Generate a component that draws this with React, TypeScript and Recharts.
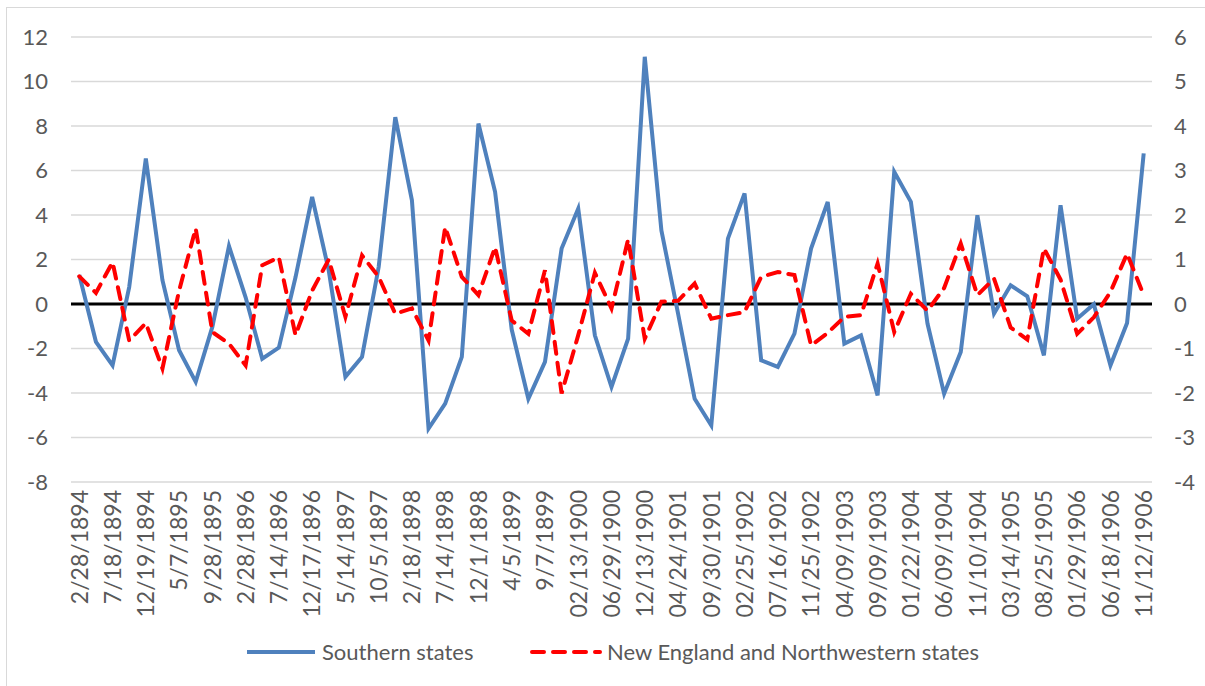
import React from 'react';
import { LineChart, Line, XAxis, YAxis, CartesianGrid, ReferenceLine } from 'recharts';

const dates: string[] = [
  '2/28/1894', '5/4/1894', '7/18/1894', '10/2/1894', '12/19/1894',
  '3/5/1895', '5/7/1895', '7/11/1895', '9/28/1895', '12/13/1895',
  '2/28/1896', '5/7/1896', '7/14/1896', '10/6/1896', '12/17/1896',
  '3/9/1897', '5/14/1897', '7/23/1897', '10/5/1897', '12/15/1897',
  '2/18/1898', '5/5/1898', '7/14/1898', '9/20/1898', '12/1/1898',
  '2/4/1899', '4/5/1899', '6/30/1899', '9/7/1899', '12/2/1899',
  '02/13/1900', '04/26/1900', '06/29/1900', '09/05/1900', '12/13/1900',
  '02/05/1901', '04/24/1901', '07/15/1901', '09/30/1901', '12/10/1901',
  '02/25/1902', '04/30/1902', '07/16/1902', '09/15/1902', '11/25/1902',
  '02/06/1903', '04/09/1903', '06/09/1903', '09/09/1903', '11/17/1903',
  '01/22/1904', '03/28/1904', '06/09/1904', '09/06/1904', '11/10/1904',
  '01/11/1905', '03/14/1905', '05/29/1905', '08/25/1905', '11/09/1905',
  '01/29/1906', '04/06/1906', '06/18/1906', '09/04/1906', '11/12/1906',
];

const southern: number[] = [
  1.3, -1.7, -2.76, 0.76, 6.54, 1.07, -2.08, -3.5, -1.03, 2.6,
  0.3, -2.46, -1.96, 1.2, 4.81, 1.5, -3.27, -2.38, 1.66, 8.4,
  4.66, -5.6, -4.48, -2.38, 8.11, 5.04, -1.15, -4.26, -2.6, 2.49,
  4.29, -1.41, -3.73, -1.56, 11.11, 3.31, -0.42, -4.26, -5.46, 2.94,
  4.97, -2.53, -2.83, -1.33, 2.49, 4.59, -1.78, -1.41, -4.11, 5.94,
  4.59, -0.88, -4.03, -2.16, 3.99, -0.43, 0.84, 0.35, -2.31, 4.44,
  -0.66, -0.01, -2.76, -0.85, 6.77,
];

const newEngland: number[] = [
  0.62, 0.25, 0.94, -0.82, -0.43, -1.45, 0.3, 1.7, -0.63, -0.89,
  -1.38, 0.87, 1.05, -0.7, 0.3, 1.0, -0.29, 1.09, 0.61, -0.22,
  -0.1, -0.82, 1.73, 0.61, 0.2, 1.28, -0.37, -0.67, 0.76, -2.01,
  -0.7, 0.7, -0.1, 1.45, -0.78, 0.05, 0.07, 0.46, -0.33, -0.25,
  -0.18, 0.61, 0.72, 0.65, -0.93, -0.65, -0.29, -0.25, 0.91, -0.63,
  0.23, -0.15, 0.36, 1.36, 0.2, 0.57, -0.53, -0.8, 1.25, 0.55,
  -0.67, -0.3, 0.27, 1.13, 0.2,
];

const leftTicks: number[] = [-8, -6, -4, -2, 0, 2, 4, 6, 8, 10, 12];
const rightTicks: number[] = [-4, -3, -2, -1, 0, 1, 2, 3, 4, 5, 6];

const seriesNames = ['Southern states', 'New England and Northwestern states'];

const data = dates.map((d, i) => ({ date: d, southern: southern[i], newEngland: newEngland[i] }));

const FONT = 'Lato, "Open Sans", sans-serif';
const TEXT = '#595959';
const BLUE = '#4F81BD';
const RED = '#FF0000';
const DASH = '12 9';

const XTick = (props: any) => {
  const { x, y, payload } = props;
  return (
    <text
      x={x}
      y={y}
      transform={`rotate(-90 ${x} ${y})`}
      textAnchor="end"
      dy="0.36em"
      fill={TEXT}
      fontSize={23}
      fontFamily={FONT}
    >
      {payload.value}
    </text>
  );
};

export default function App() {
  return (
    <div style={{ position: 'absolute', left: 0, top: 0, width: 1205, height: 686, overflow: 'hidden', background: '#fff' }}>
      <div style={{ position: 'absolute', left: 6, top: 7, width: 1220, height: 720, border: '1.5px solid #d9d9d9', boxSizing: 'border-box' }} />
      <div style={{ position: 'absolute', left: 0, top: 0 }}>
        <LineChart width={1205} height={686} data={data} margin={{ top: 37, right: 0, bottom: 0, left: 0 }}>
          <CartesianGrid yAxisId="left" vertical={false} stroke="#d9d9d9" strokeWidth={1.5} />
          <XAxis
            dataKey="date"
            interval={1}
            height={204}
            axisLine={false}
            tickLine={false}
            tickSize={0}
            tickMargin={8}
            padding={{ left: 8.3, right: 8.3 }}
            tick={<XTick />}
          />
          <YAxis
            yAxisId="left"
            orientation="left"
            width={71}
            domain={[-8, 12]}
            ticks={leftTicks}
            axisLine={false}
            tickLine={false}
            tickSize={0}
            tickMargin={23}
            tick={{ fill: TEXT, fontSize: 22, fontFamily: FONT }}
          />
          <YAxis
            yAxisId="right"
            orientation="right"
            width={53}
            domain={[-4, 6]}
            ticks={rightTicks}
            axisLine={false}
            tickLine={false}
            tickSize={0}
            tickMargin={22}
            tick={{ fill: TEXT, fontSize: 22, fontFamily: FONT, textAnchor: 'start' }}
          />
          <ReferenceLine yAxisId="left" y={0} stroke="#000" strokeWidth={3} />
          <Line
            yAxisId="left"
            type="linear"
            dataKey="southern"
            name={seriesNames[0]}
            stroke={BLUE}
            strokeWidth={4}
            dot={false}
            isAnimationActive={false}
          />
          <Line
            yAxisId="right"
            type="linear"
            dataKey="newEngland"
            name={seriesNames[1]}
            stroke={RED}
            strokeWidth={4}
            strokeDasharray={DASH}
            strokeLinecap="round"
            dot={false}
            isAnimationActive={false}
          />
        </LineChart>
      </div>
      <svg style={{ position: 'absolute', left: 0, top: 630 }} width={1205} height={45}>
        <line x1={247} y1={22} x2={315} y2={22} stroke={BLUE} strokeWidth={4} />
        <text x={322} y={22} dy="0.35em" fill={TEXT} fontSize={22} fontFamily={FONT}>{seriesNames[0]}</text>
        <line x1={532} y1={22} x2={600} y2={22} stroke={RED} strokeWidth={4} strokeDasharray={DASH} strokeLinecap="round" />
        <text x={607} y={22} dy="0.35em" fill={TEXT} fontSize={22} fontFamily={FONT}>{seriesNames[1]}</text>
      </svg>
    </div>
  );
}
